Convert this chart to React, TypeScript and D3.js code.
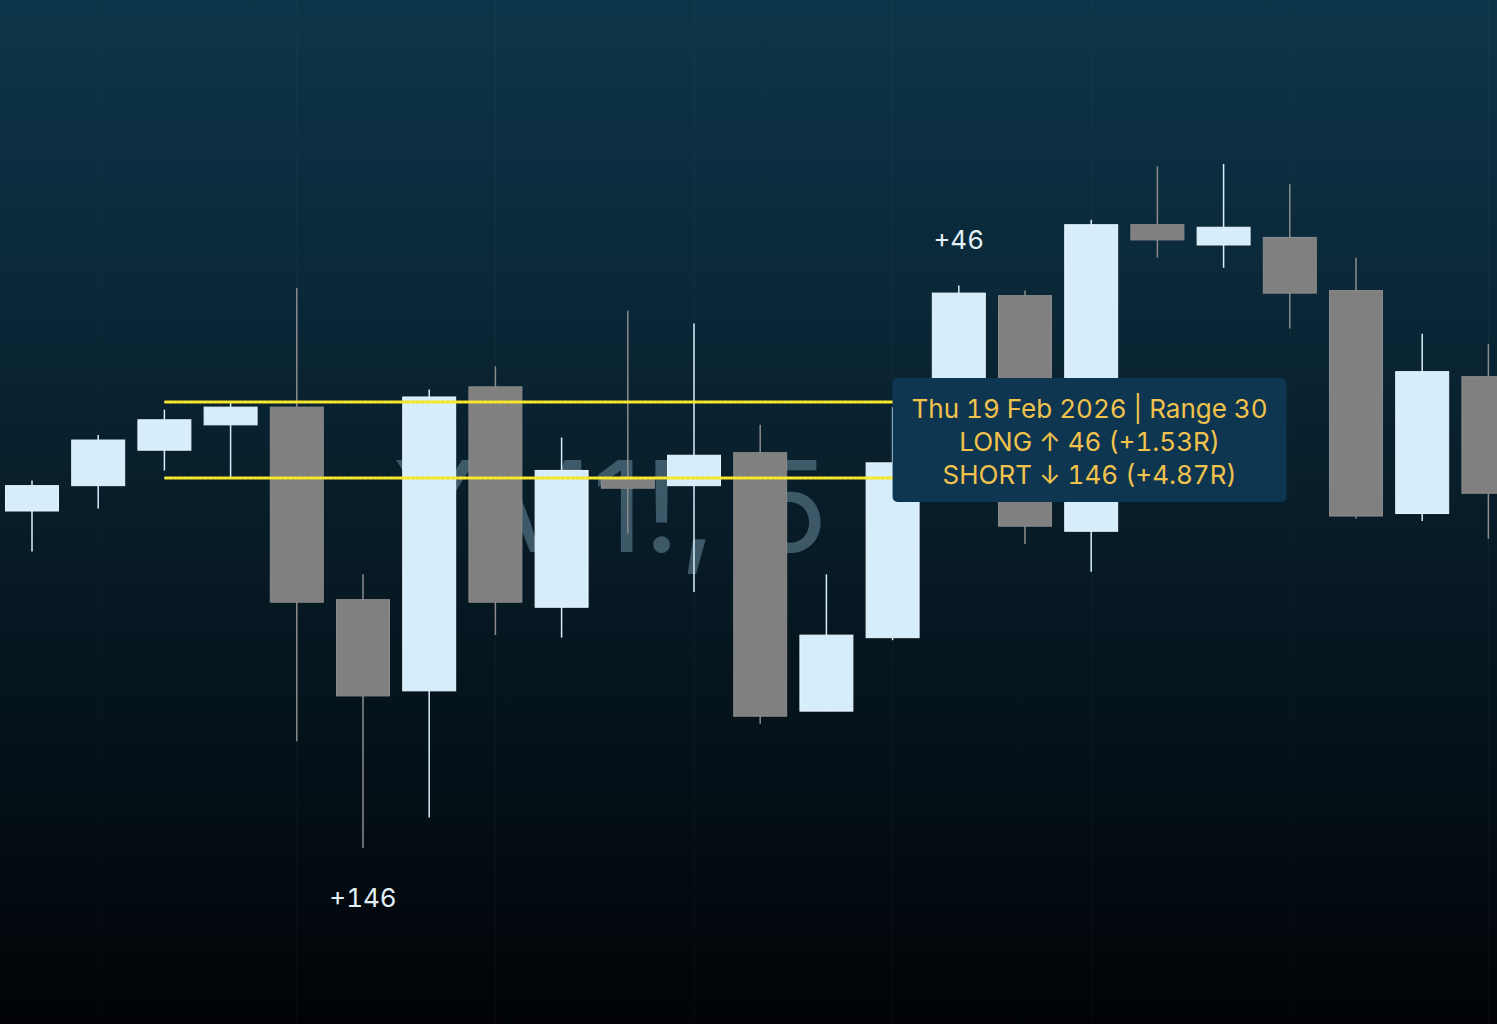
import React from "react";
import * as d3 from "d3";

// ---- data ----
const CANDLE_TIMES = [
  "09:30", "09:35", "09:40", "09:45", "09:50", "09:55", "10:00", "10:05",
  "10:10", "10:15", "10:20", "10:25", "10:30", "10:35", "10:40", "10:45",
  "10:50", "10:55", "11:00", "11:05", "11:10", "11:15", "11:20",
];
const OPEN = [
  49537, 49547, 49561, 49571, 49578, 49502, 49466, 49586, 49499, 49550, 49547, 49560,
  49458, 49487, 49556, 49622, 49529, 49650, 49642, 49645, 49624, 49536, 49590,
];
const HIGH = [
  49549, 49567, 49577, 49580, 49625, 49512, 49585, 49594, 49566, 49616, 49611, 49571,
  49512, 49578, 49626, 49624, 49652, 49673, 49674, 49666, 49637, 49607, 49603,
];
const LOW = [
  49521, 49538, 49553, 49550, 49446, 49404, 49416, 49488, 49487, 49528, 49505, 49453,
  49458, 49486, 49548, 49524, 49513, 49637, 49633, 49609, 49534, 49533, 49526,
];
const CLOSE = [
  49547, 49565, 49573, 49578, 49501, 49464, 49582, 49501, 49553, 49546, 49559, 49456,
  49488, 49556, 49623, 49531, 49650, 49644, 49649, 49623, 49535, 49592, 49544,
];

const RANGE_HIGH = 49580;
const RANGE_LOW = 49550;
const RANGE_START = "09:40";
const RANGE_END = "10:40";
const LONG_PTS = 46;
const SHORT_PTS = 146;
const LONG_BAR = "10:40";
const SHORT_BAR = "09:55";
const GRID_TIMES = ["09:35", "09:50", "10:05", "10:20", "10:35", "10:50", "11:05", "11:20"];
const WATERMARK = "YM1!, 5";
const TOOLTIP_LINES = [
  "Thu 19 Feb 2026 | Range 30",
  `LONG \u2191 ${LONG_PTS} (+${(LONG_PTS / (RANGE_HIGH - RANGE_LOW)).toFixed(2)}R)`,
  `SHORT \u2193 ${SHORT_PTS} (+${(SHORT_PTS / (RANGE_HIGH - RANGE_LOW)).toFixed(2)}R)`,
];

const W = 1497;
const H = 1024;
const FONT = "Inter, 'Noto Sans', sans-serif";
const TNUM = { fontVariantNumeric: "tabular-nums", fontFeatureSettings: "'tnum' 1" } as React.CSSProperties;

export default function App() {
  const candles = CANDLE_TIMES.map((t, i) => ({
    t, o: OPEN[i], h: HIGH[i], l: LOW[i], c: CLOSE[i],
  }));

  const x = d3.scalePoint<string>().domain(CANDLE_TIMES).range([-1.1, 1521.5]).padding(0.5);
  const step = x.step();
  const bodyW = step * 0.8;
  const y = d3.scaleLinear().domain([49334.5, 49738.7]).range([H, 0]);

  const UP_FILL = "#d6eefc";
  const UP_STROKE = "#eaf6fd";
  const DN_FILL = "#808080";
  const DN_STROKE = "#8c8c8c";

  const rx0 = x(RANGE_START)!;
  const rx1 = x(RANGE_END)!;

  const longBar = candles.find((d) => d.t === LONG_BAR)!;
  const shortBar = candles.find((d) => d.t === SHORT_BAR)!;

  const tipX = x("10:35")!;
  const tipY = y(RANGE_HIGH) - 24;
  const tipW = 394;
  const tipH = 124;

  return (
    <svg
      width={W}
      height={H}
      style={{ position: "absolute", left: 0, top: 0, display: "block" }}
      xmlns="http://www.w3.org/2000/svg"
    >
      <defs>
        <linearGradient id="bg" x1="0" y1="0" x2="0" y2="1">
          <stop offset="0" stopColor="#0d3549" />
          <stop offset="0.3" stopColor="#0a2737" />
          <stop offset="0.55" stopColor="#071a25" />
          <stop offset="0.8" stopColor="#040e15" />
          <stop offset="1" stopColor="#010306" />
        </linearGradient>
      </defs>
      <rect x={0} y={0} width={W} height={H} fill="url(#bg)" />

      {/* faint vertical grid */}
      {GRID_TIMES.map((t) => (
        <line key={t} x1={x(t)} x2={x(t)} y1={0} y2={H} stroke="#ffffff" strokeOpacity={0.03} strokeWidth={1} />
      ))}

      {/* watermark */}
      <text
        x={393}
        y={552}
        fontFamily={FONT}
        fontSize={126}
        fill="#8fb3c7"
        fillOpacity={0.4}
      >
        {WATERMARK}
      </text>

      {/* candles */}
      {candles.map((d) => {
        const up = d.c >= d.o;
        const cx = x(d.t)!;
        const top = y(Math.max(d.o, d.c));
        const bot = y(Math.min(d.o, d.c));
        return (
          <g key={d.t}>
            <line
              x1={cx}
              x2={cx}
              y1={y(d.h)}
              y2={y(d.l)}
              stroke={up ? UP_FILL : DN_STROKE}
              strokeWidth={1.5}
            />
            <rect
              x={cx - bodyW / 2}
              y={top}
              width={bodyW}
              height={Math.max(1, bot - top)}
              fill={up ? UP_FILL : DN_FILL}
              stroke={up ? UP_STROKE : DN_STROKE}
              strokeWidth={1}
            />
          </g>
        );
      })}

      {/* range lines */}
      {[RANGE_HIGH, RANGE_LOW].map((p) => (
        <g key={p}>
          <line x1={rx0} x2={rx1} y1={y(p)} y2={y(p)} stroke="#f4e21a" strokeWidth={3} />
          <line x1={rx0} x2={rx1} y1={y(p)} y2={y(p)} stroke="#fff7a0" strokeWidth={1} strokeDasharray="2,3" />
        </g>
      ))}

      {/* trade labels */}
      <text
        x={x(longBar.t)}
        y={y(longBar.h) - 37}
        textAnchor="middle"
        fontFamily={FONT}
        fontSize={26}
        fill="#e2eff6"
        style={TNUM}
      >
        {`+${LONG_PTS}`}
      </text>
      <text
        x={x(shortBar.t)}
        y={y(shortBar.l) + 59}
        textAnchor="middle"
        fontFamily={FONT}
        fontSize={26}
        fill="#e2eff6"
        style={TNUM}
      >
        {`+${SHORT_PTS}`}
      </text>

      {/* tooltip */}
      <rect x={tipX} y={tipY} width={tipW} height={tipH} rx={5} fill="#0e3650" />
      {TOOLTIP_LINES.map((s, i) => (
        <text
          key={i}
          x={tipX + tipW / 2}
          y={tipY + 40 + i * 33}
          textAnchor="middle"
          fontFamily={FONT}
          fontSize={26}
          fill="#f1c24c"
          style={TNUM}
        >
          {s}
        </text>
      ))}
    </svg>
  );
}
